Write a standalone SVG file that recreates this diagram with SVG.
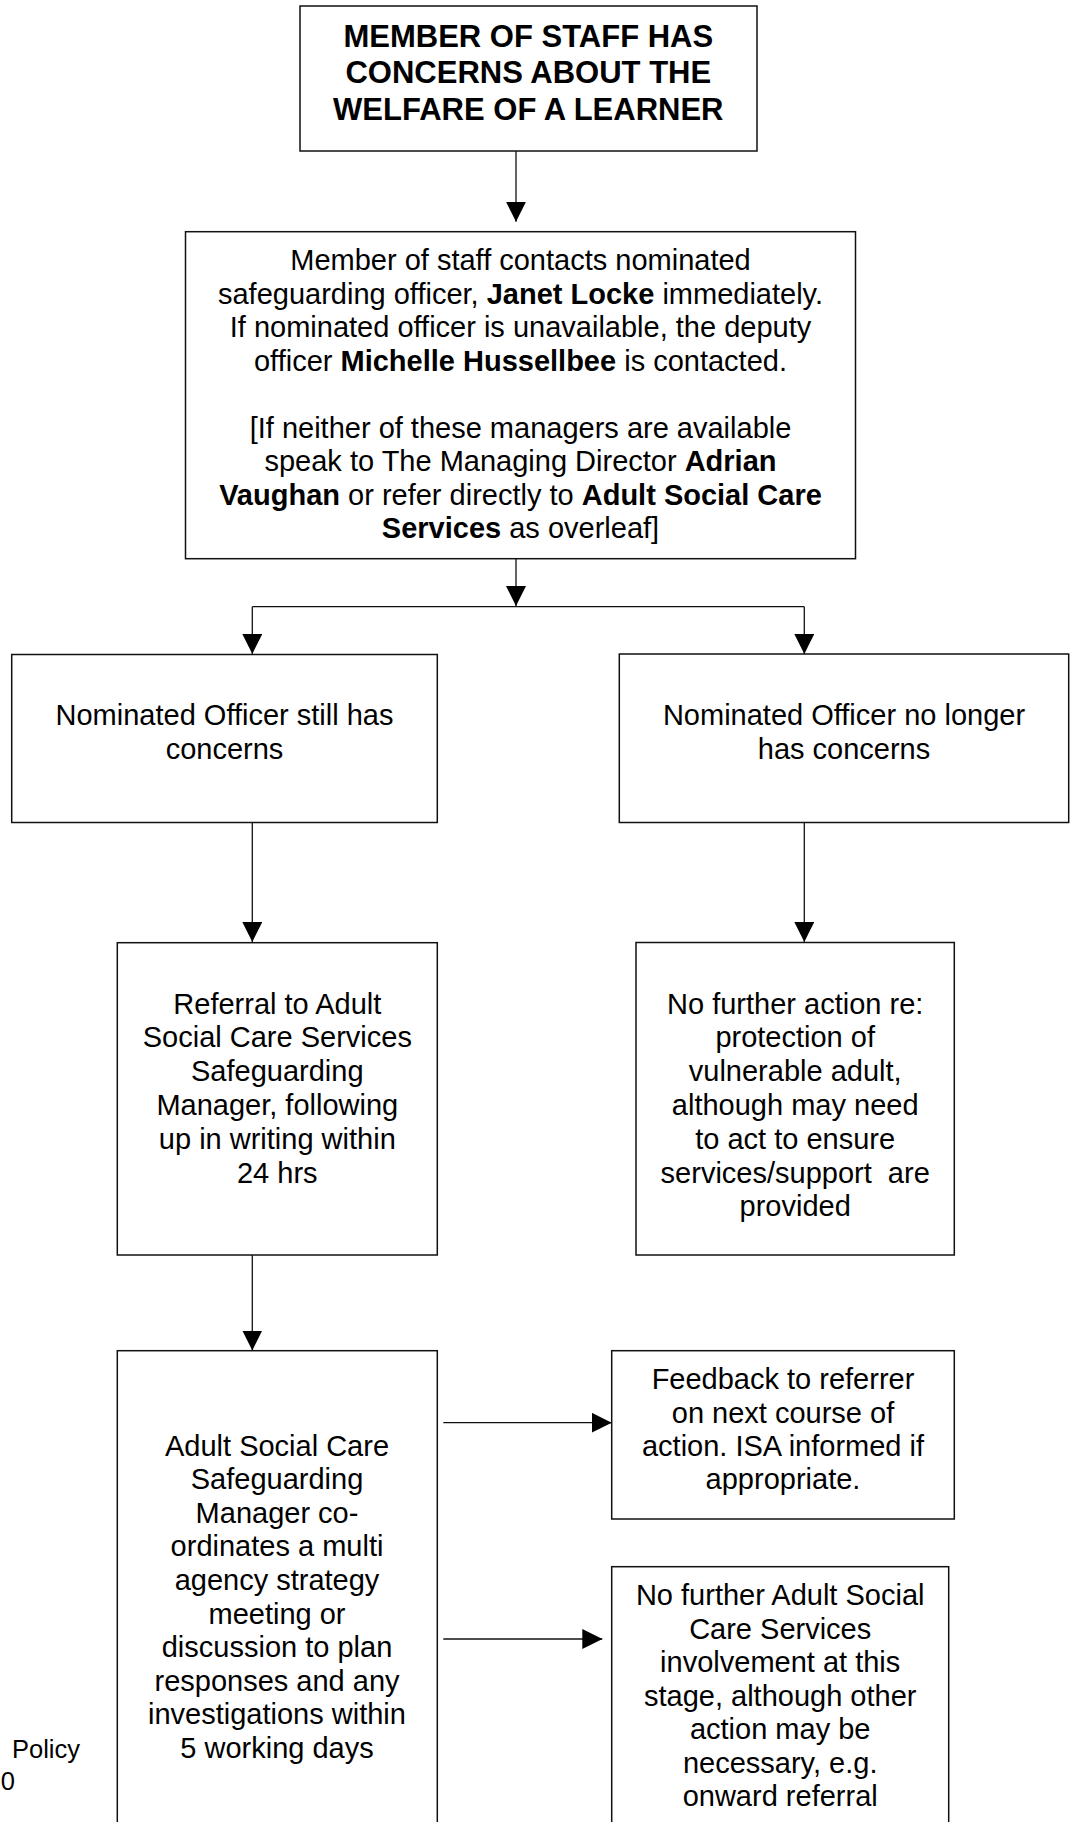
<svg xmlns="http://www.w3.org/2000/svg" width="1072" height="1822" viewBox="0 0 1072 1822">
<style>
  .box { fill: #ffffff; stroke: #111111; stroke-width: 1.5; }
  .t { font-family: "Liberation Sans", Arial, Helvetica, sans-serif; font-size: 29px; fill: #000000; text-anchor: middle; white-space: pre; }
  .tb { font-family: "Liberation Sans", Arial, Helvetica, sans-serif; font-size: 31px; font-weight: bold; fill: #000000; text-anchor: middle; }
  .b { font-weight: bold; }
  .small { font-family: "Liberation Sans", Arial, Helvetica, sans-serif; font-size: 25.5px; fill: #000000; text-anchor: end; }
  .conn { stroke: #111111; stroke-width: 1.3; fill: none; marker-end: url(#ah); }
  .plain { stroke: #111111; stroke-width: 1.3; fill: none; }
</style>
<defs>
  <marker id="ah" markerWidth="20" markerHeight="20" refX="20" refY="10" orient="auto" markerUnits="userSpaceOnUse">
    <path d="M0,0 L20,10 L0,20 z" fill="#000000"/>
  </marker>
</defs>
<rect x="0" y="0" width="1072" height="1822" fill="#ffffff"/>

<g id="connectors">
  <line class="conn" x1="516" y1="151" x2="516" y2="221.7"/>
  <line class="conn" x1="516" y1="558.7" x2="516" y2="606"/>
  <line class="plain" x1="252.3" y1="606.7" x2="804.3" y2="606.7"/>
  <line class="conn" x1="252.3" y1="606.7" x2="252.3" y2="654"/>
  <line class="conn" x1="804.3" y1="606.7" x2="804.3" y2="654"/>
  <line class="conn" x1="252.3" y1="822.7" x2="252.3" y2="942"/>
  <line class="conn" x1="804.3" y1="822.5" x2="804.3" y2="942"/>
  <line class="conn" x1="252.3" y1="1255" x2="252.3" y2="1350.5"/>
  <line class="conn" x1="443.3" y1="1422.7" x2="611.7" y2="1422.7"/>
  <line class="conn" x1="443.3" y1="1639" x2="602.3" y2="1639"/>
</g>

<g id="node-start">
  <rect class="box" x="300" y="6" width="457" height="145"/>
  <text class="tb" x="528.3" y="46.7">MEMBER OF STAFF HAS</text>
  <text class="tb" x="528.3" y="83.3">CONCERNS ABOUT THE</text>
  <text class="tb" x="528.3" y="120">WELFARE OF A LEARNER</text>
</g>

<g id="node-contact">
  <rect class="box" x="185.5" y="231.7" width="670" height="327"/>
  <text class="t" x="520.5" y="270">Member of staff contacts nominated</text>
  <text class="t" x="520.5" y="303.5">safeguarding officer, <tspan class="b">Janet Locke</tspan> immediately.</text>
  <text class="t" x="520.5" y="337">If nominated officer is unavailable, the deputy</text>
  <text class="t" x="520.5" y="370.5">officer <tspan class="b">Michelle Hussellbee</tspan> is contacted.</text>
  <text class="t" x="520.5" y="437.5">[If neither of these managers are available</text>
  <text class="t" x="520.5" y="471">speak to The Managing Director <tspan class="b">Adrian</tspan></text>
  <text class="t" x="520.5" y="504.5"><tspan class="b">Vaughan</tspan> or refer directly to <tspan class="b">Adult Social Care</tspan></text>
  <text class="t" x="520.5" y="538"><tspan class="b">Services</tspan> as overleaf]</text>
</g>

<g id="node-still-concerns">
  <rect class="box" x="11.7" y="654.5" width="425.6" height="168"/>
  <text class="t" x="224.5" y="725">Nominated Officer still has</text>
  <text class="t" x="224.5" y="759.3">concerns</text>
</g>

<g id="node-no-concerns">
  <rect class="box" x="619.3" y="654" width="449.4" height="168.5"/>
  <text class="t" x="844" y="725">Nominated Officer no longer</text>
  <text class="t" x="844" y="759.3">has concerns</text>
</g>

<g id="node-referral">
  <rect class="box" x="117.3" y="942.7" width="320" height="312.3"/>
  <text class="t" x="277.3" y="1013.5">Referral to Adult</text>
  <text class="t" x="277.3" y="1047.3">Social Care Services</text>
  <text class="t" x="277.3" y="1081.1">Safeguarding</text>
  <text class="t" x="277.3" y="1114.9">Manager, following</text>
  <text class="t" x="277.3" y="1148.7">up in writing within</text>
  <text class="t" x="277.3" y="1182.5">24 hrs</text>
</g>

<g id="node-no-further-action">
  <rect class="box" x="636" y="942.5" width="318.3" height="312.5"/>
  <text class="t" x="795.2" y="1013.5">No further action re:</text>
  <text class="t" x="795.2" y="1047.3">protection of</text>
  <text class="t" x="795.2" y="1081.1">vulnerable adult,</text>
  <text class="t" x="795.2" y="1114.9">although may need</text>
  <text class="t" x="795.2" y="1148.7">to act to ensure</text>
  <text class="t" x="795.2" y="1182.5">services/support  are</text>
  <text class="t" x="795.2" y="1216.3">provided</text>
</g>

<g id="node-strategy">
  <rect class="box" x="117.3" y="1350.7" width="320" height="500"/>
  <text class="t" x="277" y="1455.5">Adult Social Care</text>
  <text class="t" x="277" y="1489.1">Safeguarding</text>
  <text class="t" x="277" y="1522.7">Manager co-</text>
  <text class="t" x="277" y="1556.3">ordinates a multi</text>
  <text class="t" x="277" y="1589.9">agency strategy</text>
  <text class="t" x="277" y="1623.5">meeting or</text>
  <text class="t" x="277" y="1657.1">discussion to plan</text>
  <text class="t" x="277" y="1690.7">responses and any</text>
  <text class="t" x="277" y="1724.3">investigations within</text>
  <text class="t" x="277" y="1757.9">5 working days</text>
</g>

<g id="footer">
  <text class="small" x="80" y="1757.7">Policy</text>
  <text class="small" x="15" y="1790">0</text>
</g>

<g id="node-feedback">
  <rect class="box" x="611.7" y="1350.7" width="342.6" height="168.3"/>
  <text class="t" x="783" y="1389.3">Feedback to referrer</text>
  <text class="t" x="783" y="1422.7">on next course of</text>
  <text class="t" x="783" y="1456">action. ISA informed if</text>
  <text class="t" x="783" y="1489.3">appropriate.</text>
</g>

<g id="node-no-further-asc">
  <rect class="box" x="611.7" y="1566.7" width="337" height="300"/>
  <text class="t" x="780.2" y="1605">No further Adult Social</text>
  <text class="t" x="780.2" y="1638.5">Care Services</text>
  <text class="t" x="780.2" y="1672">involvement at this</text>
  <text class="t" x="780.2" y="1705.5">stage, although other</text>
  <text class="t" x="780.2" y="1739">action may be</text>
  <text class="t" x="780.2" y="1772.5">necessary, e.g.</text>
  <text class="t" x="780.2" y="1806">onward referral</text>
</g>
</svg>
